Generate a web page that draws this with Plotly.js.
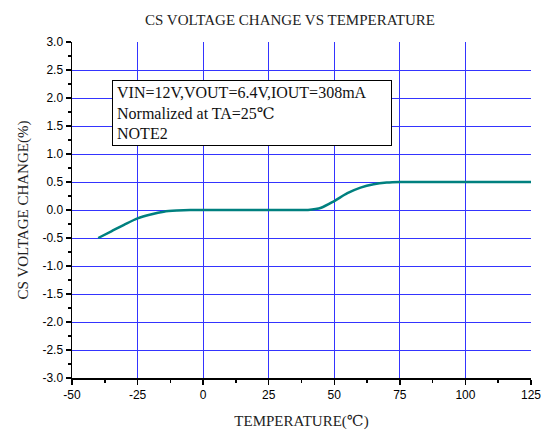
<!DOCTYPE html>
<html>
<head>
<meta charset="utf-8">
<script src="https://cdn.plot.ly/plotly-3.0.1.min.js"></script>
<style>html,body{margin:0;padding:0;background:#fff;}#chart{width:543px;height:432px;}</style>
</head>
<body>
<div id="chart"></div>
<script>
// Data
const temperature = [-40, -35, -30, -25, -20, -15, -10, -5, 0, 5, 10, 15, 20, 25, 30, 35, 40, 45, 50, 55, 60, 65, 70, 75, 80, 90, 100, 110, 125];
const csVoltageChange = [-0.50, -0.38, -0.26, -0.15, -0.08, -0.03, -0.01, 0.00, 0.00, 0.00, 0.00, 0.00, 0.00, 0.00, 0.00, 0.00, 0.00, 0.04, 0.16, 0.30, 0.40, 0.46, 0.49, 0.50, 0.50, 0.50, 0.50, 0.50, 0.50];
const xTickVals = [-50, -25, 0, 25, 50, 75, 100, 125];
const yTickVals = [-3.0, -2.5, -2.0, -1.5, -1.0, -0.5, 0.0, 0.5, 1.0, 1.5, 2.0, 2.5, 3.0];
const titleText = 'CS VOLTAGE CHANGE VS TEMPERATURE';
const xTitle = 'TEMPERATURE(℃)';
const yTitle = 'CS VOLTAGE CHANGE(%)';
const noteLines = ['VIN=12V,VOUT=6.4V,IOUT=308mA', 'Normalized at TA=25℃', 'NOTE2'];

const serif = "'Liberation Serif', 'DejaVu Serif', serif";
const sans = "'Liberation Sans', Arial, sans-serif";
const gridBlue = '#3434ff';

const trace = {
  x: temperature,
  y: csVoltageChange,
  type: 'scatter',
  mode: 'lines',
  line: {color: '#00807f', width: 2.5, shape: 'spline', smoothing: 0.8},
  hoverinfo: 'skip'
};

const layout = {
  width: 543,
  height: 432,
  margin: {l: 72, r: 12, t: 42, b: 54},
  paper_bgcolor: '#ffffff',
  plot_bgcolor: '#ffffff',
  showlegend: false,
  title: {
    text: titleText,
    font: {family: serif, size: 15, color: '#222'},
    x: 0.475, xref: 'paper', xanchor: 'center',
    y: 0.955, yref: 'container', yanchor: 'middle'
  },
  xaxis: {
    range: [-50, 125],
    tickmode: 'array', tickvals: xTickVals, ticktext: xTickVals.map(String),
    showgrid: true, gridcolor: gridBlue, gridwidth: 1,
    zeroline: false,
    showline: true, linecolor: '#000', linewidth: 1.5,
    ticks: 'outside', ticklen: 5, tickcolor: '#000', tickwidth: 1.5,
    minor: {dtick: 12.5, ticks: 'outside', ticklen: 3, tickcolor: '#000', showgrid: false},
    tickfont: {family: sans, size: 12, color: '#000'},
    title: {text: xTitle, font: {family: serif, size: 15, color: '#222'}, standoff: 14}
  },
  yaxis: {
    range: [-3, 3],
    tickmode: 'array', tickvals: yTickVals, ticktext: yTickVals.map(v => v.toFixed(1)),
    showgrid: true, gridcolor: gridBlue, gridwidth: 1,
    zeroline: false,
    showline: true, linecolor: '#000', linewidth: 1.5,
    ticks: 'outside', ticklen: 5, tickcolor: '#000', tickwidth: 1.5,
    minor: {dtick: 0.25, ticks: 'outside', ticklen: 3, tickcolor: '#000', showgrid: false},
    tickfont: {family: sans, size: 12, color: '#000'},
    title: {text: yTitle, font: {family: serif, size: 15, color: '#222'}, standoff: 10}
  },
  xaxis2: {
    overlaying: 'x', matches: 'x', side: 'top', anchor: 'y',
    range: [-50, 125], tickvals: xTickVals, showticklabels: false,
    showgrid: false, zeroline: false,
    showline: true, linecolor: '#000', linewidth: 1.5,
    ticks: 'inside', ticklen: 4, tickcolor: '#000',
    minor: {dtick: 12.5, ticks: 'inside', ticklen: 3, tickcolor: '#000', showgrid: false}
  },
  yaxis2: {
    overlaying: 'y', matches: 'y', side: 'right', anchor: 'x',
    range: [-3, 3], tickvals: yTickVals, showticklabels: false,
    showgrid: false, zeroline: false,
    showline: true, linecolor: '#333', linewidth: 2,
    ticks: 'inside', ticklen: 4, tickcolor: '#000',
    minor: {dtick: 0.25, ticks: 'inside', ticklen: 3, tickcolor: '#000', showgrid: false}
  },
  annotations: [{
    xref: 'paper', yref: 'paper',
    x: 0.087, y: 0.887, xanchor: 'left', yanchor: 'top',
    text: noteLines.join('<br>'),
    align: 'left', showarrow: false,
    font: {family: serif, size: 16, color: '#111'},
    bgcolor: '#ffffff', bordercolor: '#000', borderwidth: 1, borderpad: 4,
    width: 270, height: 56
  }]
};

Plotly.newPlot('chart', [trace], layout, {displayModeBar: false, staticPlot: true});
</script>
</body>
</html>
